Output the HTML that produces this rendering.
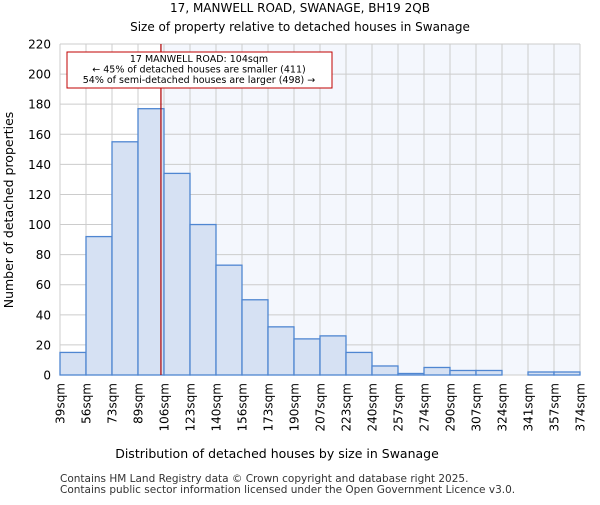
<!DOCTYPE html>
<html><head><meta charset="utf-8"><style>
body{margin:0;background:#fff;font-family:"Liberation Sans","DejaVu Sans",sans-serif}
text{font-family:"DejaVu Sans","Liberation Sans",sans-serif}
</style></head><body>
<svg id="c" width="600" height="500" xmlns="http://www.w3.org/2000/svg">
<text x="300" y="12" text-anchor="middle" font-size="12">17, MANWELL ROAD, SWANAGE, BH19 2QB</text>
<text x="300" y="31" text-anchor="middle" font-size="12">Size of property relative to detached houses in Swanage</text>
<g id="plot"></g>
<text x="277" y="458" text-anchor="middle" font-size="12.5">Distribution of detached houses by size in Swanage</text>
<text transform="translate(13,210) rotate(-90)" text-anchor="middle" font-size="12.5">Number of detached properties</text>
<text x="60" y="482" font-size="10.5" fill="#333">Contains HM Land Registry data © Crown copyright and database right 2025.</text>
<text x="60" y="493" font-size="10.5" fill="#333">Contains public sector information licensed under the Open Government Licence v3.0.</text>
</svg>
<script>
const tickLabels=["39sqm","56sqm","73sqm","89sqm","106sqm","123sqm","140sqm","156sqm","173sqm","190sqm","207sqm","223sqm","240sqm","257sqm","274sqm","290sqm","307sqm","324sqm","341sqm","357sqm","374sqm"];
const binEdges=[39,56,73,89,106,123,140,156,173,190,207,223,240,257,274,290,307,324,341,357,374];
const counts=[15,92,155,177,134,100,73,50,32,24,26,15,6,1,5,3,3,0,2,2];
const yTicks=[0,20,40,60,80,100,120,140,160,180,200,220];
const propertySize=104;
const NS="http://www.w3.org/2000/svg";
const L=60,R=580,T=44,B=375,yMax=220;
const nb=counts.length, bw=(R-L)/nb;
const xi=i=>L+i*bw;
const y=v=>B-v/yMax*(B-T);
function xv(v){for(let i=0;i<binEdges.length-1;i++){if(v<=binEdges[i+1])return xi(i)+bw*(v-binEdges[i])/(binEdges[i+1]-binEdges[i]);}return R;}
const g=document.getElementById('plot');
function mk(t,a){const e=document.createElementNS(NS,t);for(const k in a)e.setAttribute(k,a[k]);g.appendChild(e);return e;}
const mx=xv(propertySize);
let e=mk('rect',{x:L,y:T,width:R-L,height:B-T,fill:'#fff'});


e=mk('rect',{x:mx,y:T,width:R-mx,height:B-T,fill:'#f4f7fd'});


yTicks.forEach(v=>{
 let l=mk('line',{x1:L,x2:R,y1:y(v),y2:y(v),stroke:'#ccc'});
 
 
 let t=mk('text',{x:L-9,y:y(v)+4.5,'text-anchor':'end','font-size':'12'});t.textContent=v;
 
 
});
tickLabels.forEach((s,i)=>{
 let l=mk('line',{x1:xi(i),x2:xi(i),y1:T,y2:B,stroke:'#ccc'});
 
 
 let t=mk('text',{transform:`translate(${xi(i)+4.5},${B+8}) rotate(-90)`,'text-anchor':'end','font-size':'12'});t.textContent=s;
 
 
});
counts.forEach((c,i)=>{
 if(c<=0)return;
 let r=mk('rect',{x:xi(i),y:y(c),width:bw,height:B-y(c),fill:'#d6e1f3',stroke:'#4f86d1','stroke-width':1.3});
 
 
});
e=mk('line',{x1:mx,x2:mx,y1:T,y2:B,stroke:'#b00000','stroke-width':1.2});


e=mk('rect',{x:67,y:52,width:265,height:36,fill:'#fff',stroke:'#c00000'});


["17 MANWELL ROAD: 104sqm","← 45% of detached houses are smaller (411)","54% of semi-detached houses are larger (498) →"].forEach((s,i)=>{
 let t=mk('text',{x:199,y:62+i*10.5,'text-anchor':'middle','font-size':'9.5'});t.textContent=s;
 
 
});
</script>
</body></html>
